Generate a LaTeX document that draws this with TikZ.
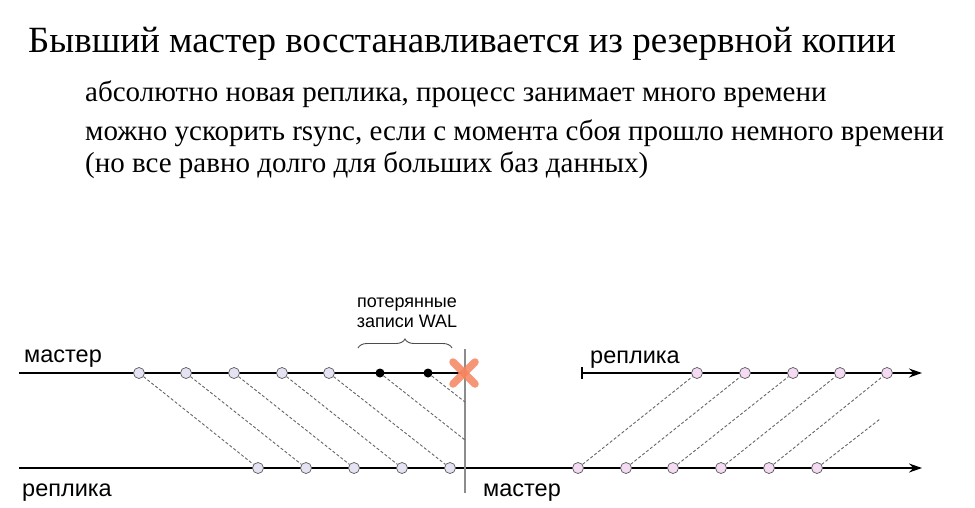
\documentclass[tikz,border=0pt]{standalone}
\usepackage{fontspec}
\setmainfont{Liberation Serif}
\newfontfamily\lsans{Liberation Sans}
\usetikzlibrary{arrows.meta,decorations.pathreplacing,backgrounds,calc}
\definecolor{dotA}{HTML}{E6E2F4}
\definecolor{dotB}{HTML}{F4DAF2}
\definecolor{crossc}{HTML}{F4845E}
\tikzset{
  dotl/.style={circle,inner sep=0pt,minimum size=11pt,fill=dotA,draw=black!65,line width=0.7pt},
  dotr/.style={circle,inner sep=0pt,minimum size=11pt,fill=dotB,draw=black!65,line width=0.7pt},
  dotk/.style={circle,inner sep=0pt,minimum size=9pt,fill=black},
  axis/.style={line width=1.3pt,black},
  axisarrow/.style={axis,-{Stealth[length=13pt,width=9pt]}},
  msg/.style={draw=black!60,dashed,dash pattern=on 3pt off 2pt,line width=0.9pt},
  lab/.style={font=\lsans\fontsize{23.5}{27}\selectfont,anchor=base west,inner sep=0pt},
  title/.style={font=\fontsize{37}{41}\selectfont,anchor=base west,inner sep=0pt},
  bul/.style={font=\fontsize{29}{32}\selectfont,anchor=base west,inner sep=0pt},
}
\begin{document}
\begin{tikzpicture}[x=1pt,y=-1pt]
\useasboundingbox (0,0) rectangle (975,507);
\node[title] (tt) at (28,52) {Бывший мастер восстанавливается из резервной копии};
\node[bul] (b1t) at (85,101) {абсолютно новая реплика, процесс занимает много времени};
\node[bul] (b2t) at (85,140) {можно ускорить rsync, если с момента сбоя прошло немного времени};
\node[bul] (b3t) at (85,172) {(но все равно долго для больших баз данных)};

% labels
\node[lab] (lm) at (24,362) {мастер};
\node[lab] (lr) at (22,496) {реплика};
\node[lab] (rr) at (590,363) {реплика};
\node[lab] (rm) at (483,496) {мастер};
\node[font=\lsans\fontsize{18}{21}\selectfont,align=center,inner sep=0pt] (lost) at (407,313) {потерянные\\[-1pt]записи WAL};

% axis coordinates
\coordinate (ml0) at (19,373);
\coordinate (ml1) at (462,373);
\coordinate (rl0) at (19,468);
\coordinate (rl1) at (922,468);
\coordinate (rt0) at (582,373);
\coordinate (rt1) at (922,373);
\coordinate (v0) at (465,349);
\coordinate (v1) at (465,493);

% left dots
\foreach \i/\x in {1/139,2/186,3/234,4/282,5/329}{\node[dotl] (t\i) at (\x,373) {};}
\node[dotk] (k1) at (380,373) {};
\node[dotk] (k2) at (428,373) {};
\foreach \i/\x in {1/258,2/306,3/354,4/402,5/450}{\node[dotl] (r\i) at (\x,468) {};}
\coordinate (ke1) at (465,440);
\coordinate (ke2) at (465,402);

% right dots
\foreach \i/\x in {1/578,2/626,3/673,4/721,5/769,6/817}{\node[dotr] (m\i) at (\x,468) {};}
\foreach \i/\x in {1/697,2/745,3/793,4/840,5/887}{\node[dotr] (p\i) at (\x,373) {};}
\coordinate (me6) at (880,419);

\begin{pgfonlayer}{background}
\draw[axis] (ml0) -- (ml1);
\draw[axisarrow] (rl0) -- (rl1);
\draw[axisarrow] (rt0) -- (rt1);
\draw[axis] (582,367) -- (582,379);
\draw[line width=1.3pt,black!45] (v0) -- (v1);
\foreach \i in {1,...,5}{\draw[msg] (t\i) -- (r\i);}
\draw[msg] (k1) -- (ke1);
\draw[msg] (k2) -- (ke2);
\foreach \i in {1,...,5}{\draw[msg] (m\i) -- (p\i);}
\draw[msg] (m6) -- (me6);
\end{pgfonlayer}

% brace
\draw[black!70,line width=0.9pt,decorate,decoration={brace,amplitude=9pt}] (358,348) -- (452,348);

% cross
\coordinate (xc) at (464,373);
\draw[crossc,opacity=0.85,line width=7.5pt,line cap=round] ($(xc)+(-11,-11)$) -- ($(xc)+(11,11)$);
\draw[crossc,opacity=0.85,line width=7.5pt,line cap=round] ($(xc)+(-11,11)$) -- ($(xc)+(11,-11)$);
\end{tikzpicture}
\end{document}
